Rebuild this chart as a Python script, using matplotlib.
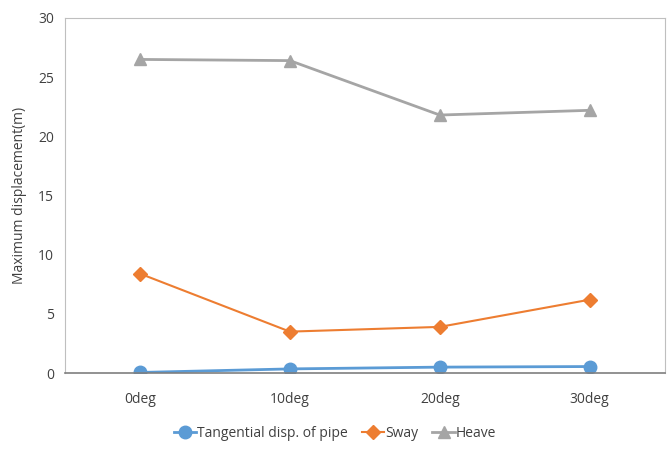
import matplotlib.pyplot as plt

categories = ['0deg', '10deg', '20deg', '30deg']
tangential = [0.05, 0.35, 0.5, 0.55]
sway = [8.4, 3.5, 3.9, 6.2]
heave = [26.5, 26.4, 21.8, 22.2]

plt.rcParams['font.family'] = ['Open Sans', 'DejaVu Sans']

fig = plt.figure(figsize=(6.7, 4.5), dpi=100)
ax = fig.add_axes([0.097, 0.171, 0.895, 0.789])

x = range(len(categories))
ax.plot(x, tangential, color='#5B9BD5', marker='o', markersize=9, lw=2,
        label='Tangential disp. of pipe')
ax.plot(x, sway, color='#ED7D31', marker='D', markersize=7, lw=1.5, label='Sway')
ax.plot(x, heave, color='#A5A5A5', marker='^', markersize=9, lw=2, label='Heave')

ax.set_xlim(-0.5, 3.5)
ax.set_ylim(0, 30)
ax.set_yticks(range(0, 31, 5))
ax.set_xticks(list(x))
ax.set_xticklabels(categories)
ax.tick_params(length=0, labelsize=10, colors='#404040', pad=8)
ax.tick_params(axis='x', pad=14)
for side in ['top', 'right', 'left']:
    ax.spines[side].set_color('#BFBFBF')
ax.spines['bottom'].set_color('#7F7F7F')
ax.spines['bottom'].set_linewidth(1.2)
ax.set_ylabel('Maximum displacement(m)', fontsize=10, color='#404040', labelpad=8)

fig.legend(loc='lower center', bbox_to_anchor=(0.5, -0.008), ncol=3, frameon=False,
           fontsize=10, handlelength=1.6, handletextpad=0.1, columnspacing=1.0,
           labelcolor='#404040')

fig.savefig('out.png', dpi=100)
